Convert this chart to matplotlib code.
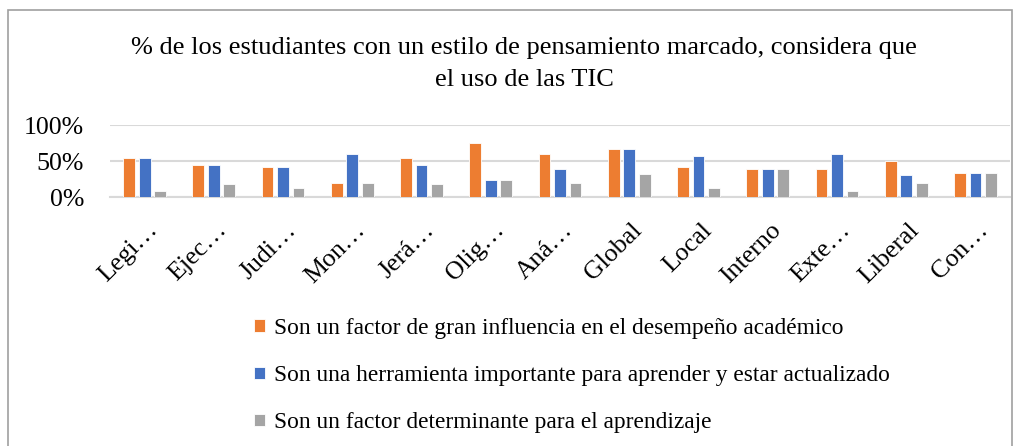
import matplotlib
matplotlib.use('Agg')
import matplotlib.pyplot as plt
import matplotlib.patches as patches
import matplotlib.transforms as mtransforms
import numpy as np

plt.rcParams['font.family'] = ['Liberation Serif', 'DejaVu Serif']

categories = ['Legi…', 'Ejec…', 'Judi…', 'Mon…', 'Jerá…', 'Olig…', 'Aná…',
              'Global', 'Local', 'Interno', 'Exte…', 'Liberal', 'Con…']
influencia = [0.54, 0.45, 0.42, 0.19, 0.54, 0.75, 0.60, 0.66, 0.42, 0.39, 0.39, 0.50, 0.33]
herramienta = [0.54, 0.45, 0.42, 0.60, 0.45, 0.24, 0.39, 0.66, 0.57, 0.39, 0.60, 0.30, 0.33]
determinante = [0.09, 0.18, 0.13, 0.19, 0.18, 0.24, 0.19, 0.32, 0.13, 0.39, 0.09, 0.19, 0.33]
series_names = ['Son un factor de gran influencia en el desempeño académico',
                'Son una herramienta importante para aprender y estar actualizado',
                'Son un factor determinante para el aprendizaje']
colors = ['#ED7D31', '#4472C4', '#A5A5A5']

W, H = 1024, 446
fig = plt.figure(figsize=(W / 100, H / 100), dpi=100)

# outer chart border
fig.patches.append(patches.Rectangle((8 / W, -0.05), 1004 / W, 1.05 - 10 / H,
                                     transform=fig.transFigure, fill=False,
                                     edgecolor='#a0a0a0', linewidth=1.2))

ax = fig.add_axes([110 / W, 1 - 197 / H, 900 / W, 72 / H])

x = np.arange(len(categories))
width = 0.17
offset = 0.224
for i, vals in enumerate([influencia, herramienta, determinante]):
    ax.bar(x + (i - 1) * offset, vals, width, color=colors[i],
           edgecolor='white', linewidth=0.6, label=series_names[i], zorder=3)

ax.set_xlim(-0.5, len(categories) - 0.5)
ax.set_ylim(0, 1)
ax.set_yticks([0, 0.5, 1.0])
ax.set_yticklabels(['0%', '50%', '100%'], fontsize=18.6)
ax.yaxis.grid(True, color='#d9d9d9', linewidth=1.5, zorder=0)
ax.set_xticks(x)
ax.set_xticklabels(categories, rotation=45, ha='right', va='baseline',
                   rotation_mode='anchor', fontsize=18.6)
ax.tick_params(axis='y', length=0, pad=18.7)
ax.tick_params(axis='x', length=0, pad=0)
# shift the rotated labels so their ends sit just right of each group
shift = mtransforms.ScaledTranslation(0.14, -0.34, fig.dpi_scale_trans)
for lbl in ax.get_xticklabels():
    lbl.set_transform(lbl.get_transform() + shift)
for s in ['top', 'right', 'left']:
    ax.spines[s].set_visible(False)
ax.spines['bottom'].set_color('#d9d9d9')
ax.spines['bottom'].set_linewidth(1.5)

fig.text(0.512, 1 - 48 / H, '% de los estudiantes con un estilo de pensamiento marcado, considera que',
         ha='center', va='center', fontsize=19)
fig.text(0.512, 1 - 80 / H, 'el uso de las TIC', ha='center', va='center', fontsize=19)

handles, labels = ax.get_legend_handles_labels()
fig.legend(handles, labels, loc='upper left', bbox_to_anchor=(233 / W, 1 - 297 / H),
           frameon=False, fontsize=16.8, handlelength=0.45, handleheight=0.45,
           handletextpad=0.4, labelspacing=1.12)

fig.savefig('out.png', dpi=100)
